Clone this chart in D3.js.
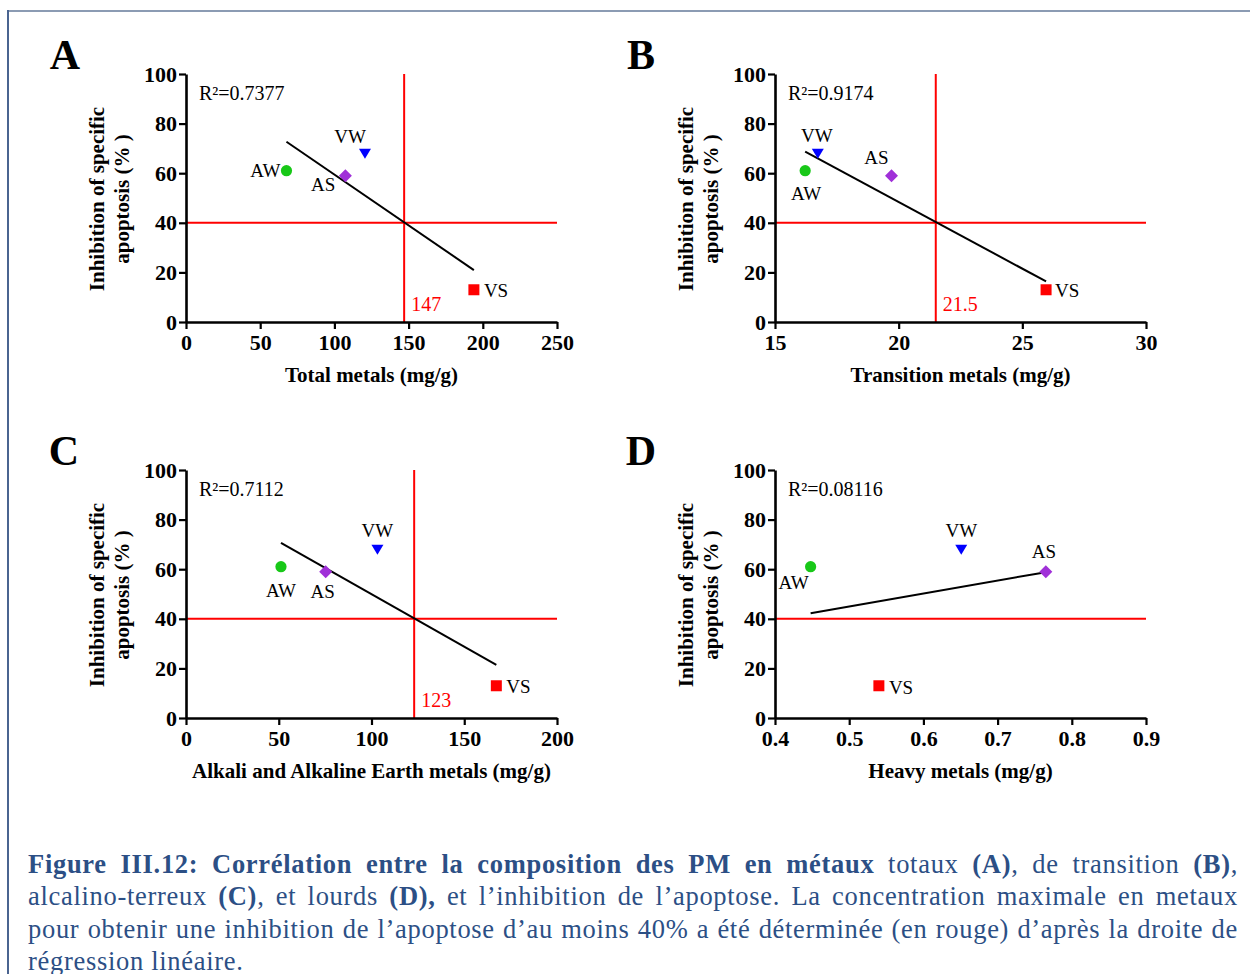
<!DOCTYPE html>
<html>
<head>
<meta charset="utf-8">
<script src="https://cdn.jsdelivr.net/npm/d3@7"></script>
<style>
  body { margin:0; background:#fff; width:1250px; height:974px; overflow:hidden; position:relative; }
  #frameTop { position:absolute; left:8px; top:10px; width:1242px; height:2px; background:#8b9bb3; }
  #frameLeft { position:absolute; left:7px; top:10px; width:2px; height:964px; background:#4a6490; }
  #caption { position:absolute; left:28px; top:848px; width:1210px; font-family:"Liberation Serif", serif;
             font-size:26.5px; color:#2c4f85; line-height:32.4px; letter-spacing:0.7px; }
  #caption .j.on { text-align:justify; text-align-last:justify; }
  svg text { font-family:"Liberation Serif", serif; }
</style>
</head>
<body>
<svg id="chart" width="1250" height="830" style="position:absolute;left:0;top:0"></svg>
<div id="frameTop"></div>
<div id="frameLeft"></div>
<div id="caption">
  <div class="j"><span class="m"><b>Figure III.12: Corrélation entre la composition des PM en métaux</b> totaux <b>(A)</b>, de transition <b>(B)</b>,</span></div>
  <div class="j"><span class="m">alcalino-terreux <b>(C)</b>, et lourds <b>(D),</b> et l’inhibition de l’apoptose. La concentration maximale en metaux</span></div>
  <div class="j"><span class="m">pour obtenir une inhibition de l’apoptose d’au moins 40% a été déterminée (en rouge) d’après la droite de</span></div>
  <div><span class="m">régression linéaire.</span></div>
</div>
<script>
// ---------------- data ----------------
const samples = ["AW", "AS", "VW", "VS"];
const inhibition = [61, 59, 68, 13];
const totalMetals = [67.7, 107.4, 120.6, 194];
const transitionMetals = [16.22, 19.71, 16.73, 25.96];
const alkaliMetals = [51.2, 75.3, 103.2, 167.3];
const heavyMetals = [0.448, 0.765, 0.651, 0.54];

const xDomains = [[0, 250], [15, 30], [0, 200], [0.4, 0.9]];
const xTickValues = [[0, 50, 100, 150, 200, 250], [15, 20, 25, 30], [0, 50, 100, 150, 200], [0.4, 0.5, 0.6, 0.7, 0.8, 0.9]];
const yDomain = [0, 100];
const yTickValues = [0, 20, 40, 60, 80, 100];
const r2Labels = ["R²=0.7377", "R²=0.9174", "R²=0.7112", "R²=0.08116"];
const cutoffX = [147, 21.5, 123, null];
const cutoffLabels = ["147", "21.5", "123", ""];
const cutoffY = 40;
const panelLetters = ["A", "B", "C", "D"];
const xTitles = ["Total metals (mg/g)", "Transition metals (mg/g)", "Alkali and Alkaline Earth metals (mg/g)", "Heavy metals (mg/g)"];
const yTitleLines = ["Inhibition of specific", "apoptosis (% )"];

// ---------------- caption fitting ----------------
(function fitCaption() {
  const cap = document.getElementById("caption");
  let ls = 0.7;
  for (let iter = 0; iter < 30; iter++) {
    cap.style.letterSpacing = ls + "px";
    const widest = d3.max(Array.from(cap.querySelectorAll(".m")), s => s.getBoundingClientRect().width);
    if (widest <= 1204) break;
    ls -= 0.1;
  }
  cap.querySelectorAll(".j").forEach(d => d.classList.add("on"));
})();

// ---------------- layout / style ----------------
const plotW = 371, plotH = 248;
const colors = { AW: "#18c818", AS: "#a030d8", VW: "#0000ff", VS: "#ff0000" };
const panels = [
  { x: totalMetals, left: 186, top: 74, letterX: 65,
    labels: { AW: [-6, 6, "end"], AS: [-10, 15, "end"], VW: [1, -10, "end"], VS: [10, 7, "start"] } },
  { x: transitionMetals, left: 775, top: 74, letterX: 641,
    labels: { AW: [1, 29, "middle"], AS: [-15, -12, "middle"], VW: [-1, -11, "middle"], VS: [9, 7, "start"] } },
  { x: alkaliMetals, left: 186, top: 470, letterX: 64,
    labels: { AW: [0, 30, "middle"], AS: [-3, 26, "middle"], VW: [0, -12, "middle"], VS: [10, 7, "start"] } },
  { x: heavyMetals, left: 775, top: 470, letterX: 641,
    labels: { AW: [-17, 22, "middle"], AS: [-2, -14, "middle"], VW: [0, -12, "middle"], VS: [10, 8, "start"] } }
];

const svg = d3.select("#chart");

function markerPath(name) {
  if (name === "AW") return d3.symbol(d3.symbolCircle, Math.PI * 5.6 * 5.6)();
  if (name === "VS") return "M-5.5,-5.5H5.5V5.5H-5.5Z";
  if (name === "AS") return "M0,-6.5L6.5,0L0,6.5L-6.5,0Z";
  return "M-6,-4.5L6,-4.5L0,5.5Z";
}

function linReg(xs, ys) {
  const mx = d3.mean(xs), my = d3.mean(ys);
  let sxy = 0, sxx = 0;
  xs.forEach((v, i) => { sxy += (v - mx) * (ys[i] - my); sxx += (v - mx) * (v - mx); });
  const b = sxy / sxx;
  return v => my + b * (v - mx);
}

panels.forEach((p, i) => {
  const g = svg.append("g").attr("transform", `translate(${p.left},${p.top})`);
  const x = d3.scaleLinear().domain(xDomains[i]).range([0, plotW]);
  const y = d3.scaleLinear().domain(yDomain).range([plotH, 0]);

  // panel letter
  svg.append("text").attr("x", p.letterX).attr("y", p.top - 5)
    .attr("text-anchor", "middle").attr("font-size", 42).attr("font-weight", "bold")
    .text(panelLetters[i]);

  // red cut-off lines
  g.append("line").attr("x1", 0).attr("x2", plotW).attr("y1", y(cutoffY)).attr("y2", y(cutoffY))
    .attr("stroke", "#ff0000").attr("stroke-width", 2);
  if (cutoffX[i] !== null) {
    g.append("line").attr("x1", x(cutoffX[i])).attr("x2", x(cutoffX[i])).attr("y1", 0).attr("y2", plotH)
      .attr("stroke", "#ff0000").attr("stroke-width", 2);
    g.append("text").attr("x", x(cutoffX[i]) + 7).attr("y", plotH - 11)
      .attr("font-size", 20).attr("fill", "#ff0000").text(cutoffLabels[i]);
  }

  // axes
  const ya = g.append("g").call(d3.axisLeft(y).tickValues(yTickValues).tickSize(7).tickSizeOuter(0).tickPadding(2)
    .tickFormat(d => String(d)));
  const xa = g.append("g").attr("transform", `translate(0,${plotH})`)
    .call(d3.axisBottom(x).tickValues(xTickValues[i]).tickSize(7).tickSizeOuter(0).tickPadding(5)
    .tickFormat(d => String(d)));
  [ya, xa].forEach(a => {
    a.select(".domain").attr("stroke", "#000").attr("stroke-width", 2.6);
    a.selectAll(".tick line").attr("stroke", "#000").attr("stroke-width", 2.2);
    a.selectAll(".tick text").attr("font-family", "Liberation Serif, serif").attr("font-size", 22)
      .attr("font-weight", "bold").attr("fill", "#000");
  });

  // axis titles
  g.append("text").attr("x", plotW / 2).attr("y", plotH + 60).attr("text-anchor", "middle")
    .attr("font-size", 21).attr("font-weight", "bold").text(xTitles[i]);
  yTitleLines.forEach((t, k) => {
    g.append("text").attr("transform", `translate(${-89 + k * 25},${plotH / 2 + 1}) rotate(-90)`)
      .attr("text-anchor", "middle").attr("dominant-baseline", "central")
      .attr("font-size", 21).attr("font-weight", "bold").text(t);
  });

  // R2 label
  g.append("text").attr("x", 13).attr("y", 26).attr("font-size", 20).text(r2Labels[i]);

  // regression line
  const f = linReg(p.x, inhibition);
  const xmin = d3.min(p.x), xmax = d3.max(p.x);
  g.append("line").attr("x1", x(xmin)).attr("y1", y(f(xmin))).attr("x2", x(xmax)).attr("y2", y(f(xmax)))
    .attr("stroke", "#000").attr("stroke-width", 2);

  // points + labels
  samples.forEach((s, k) => {
    const px = x(p.x[k]), py = y(inhibition[k]);
    g.append("path").attr("d", markerPath(s)).attr("transform", `translate(${px},${py})`).attr("fill", colors[s]);
    const L = p.labels[s];
    g.append("text").attr("x", px + L[0]).attr("y", py + L[1]).attr("text-anchor", L[2])
      .attr("font-size", 19).text(s);
  });
});
</script>
</body>
</html>
